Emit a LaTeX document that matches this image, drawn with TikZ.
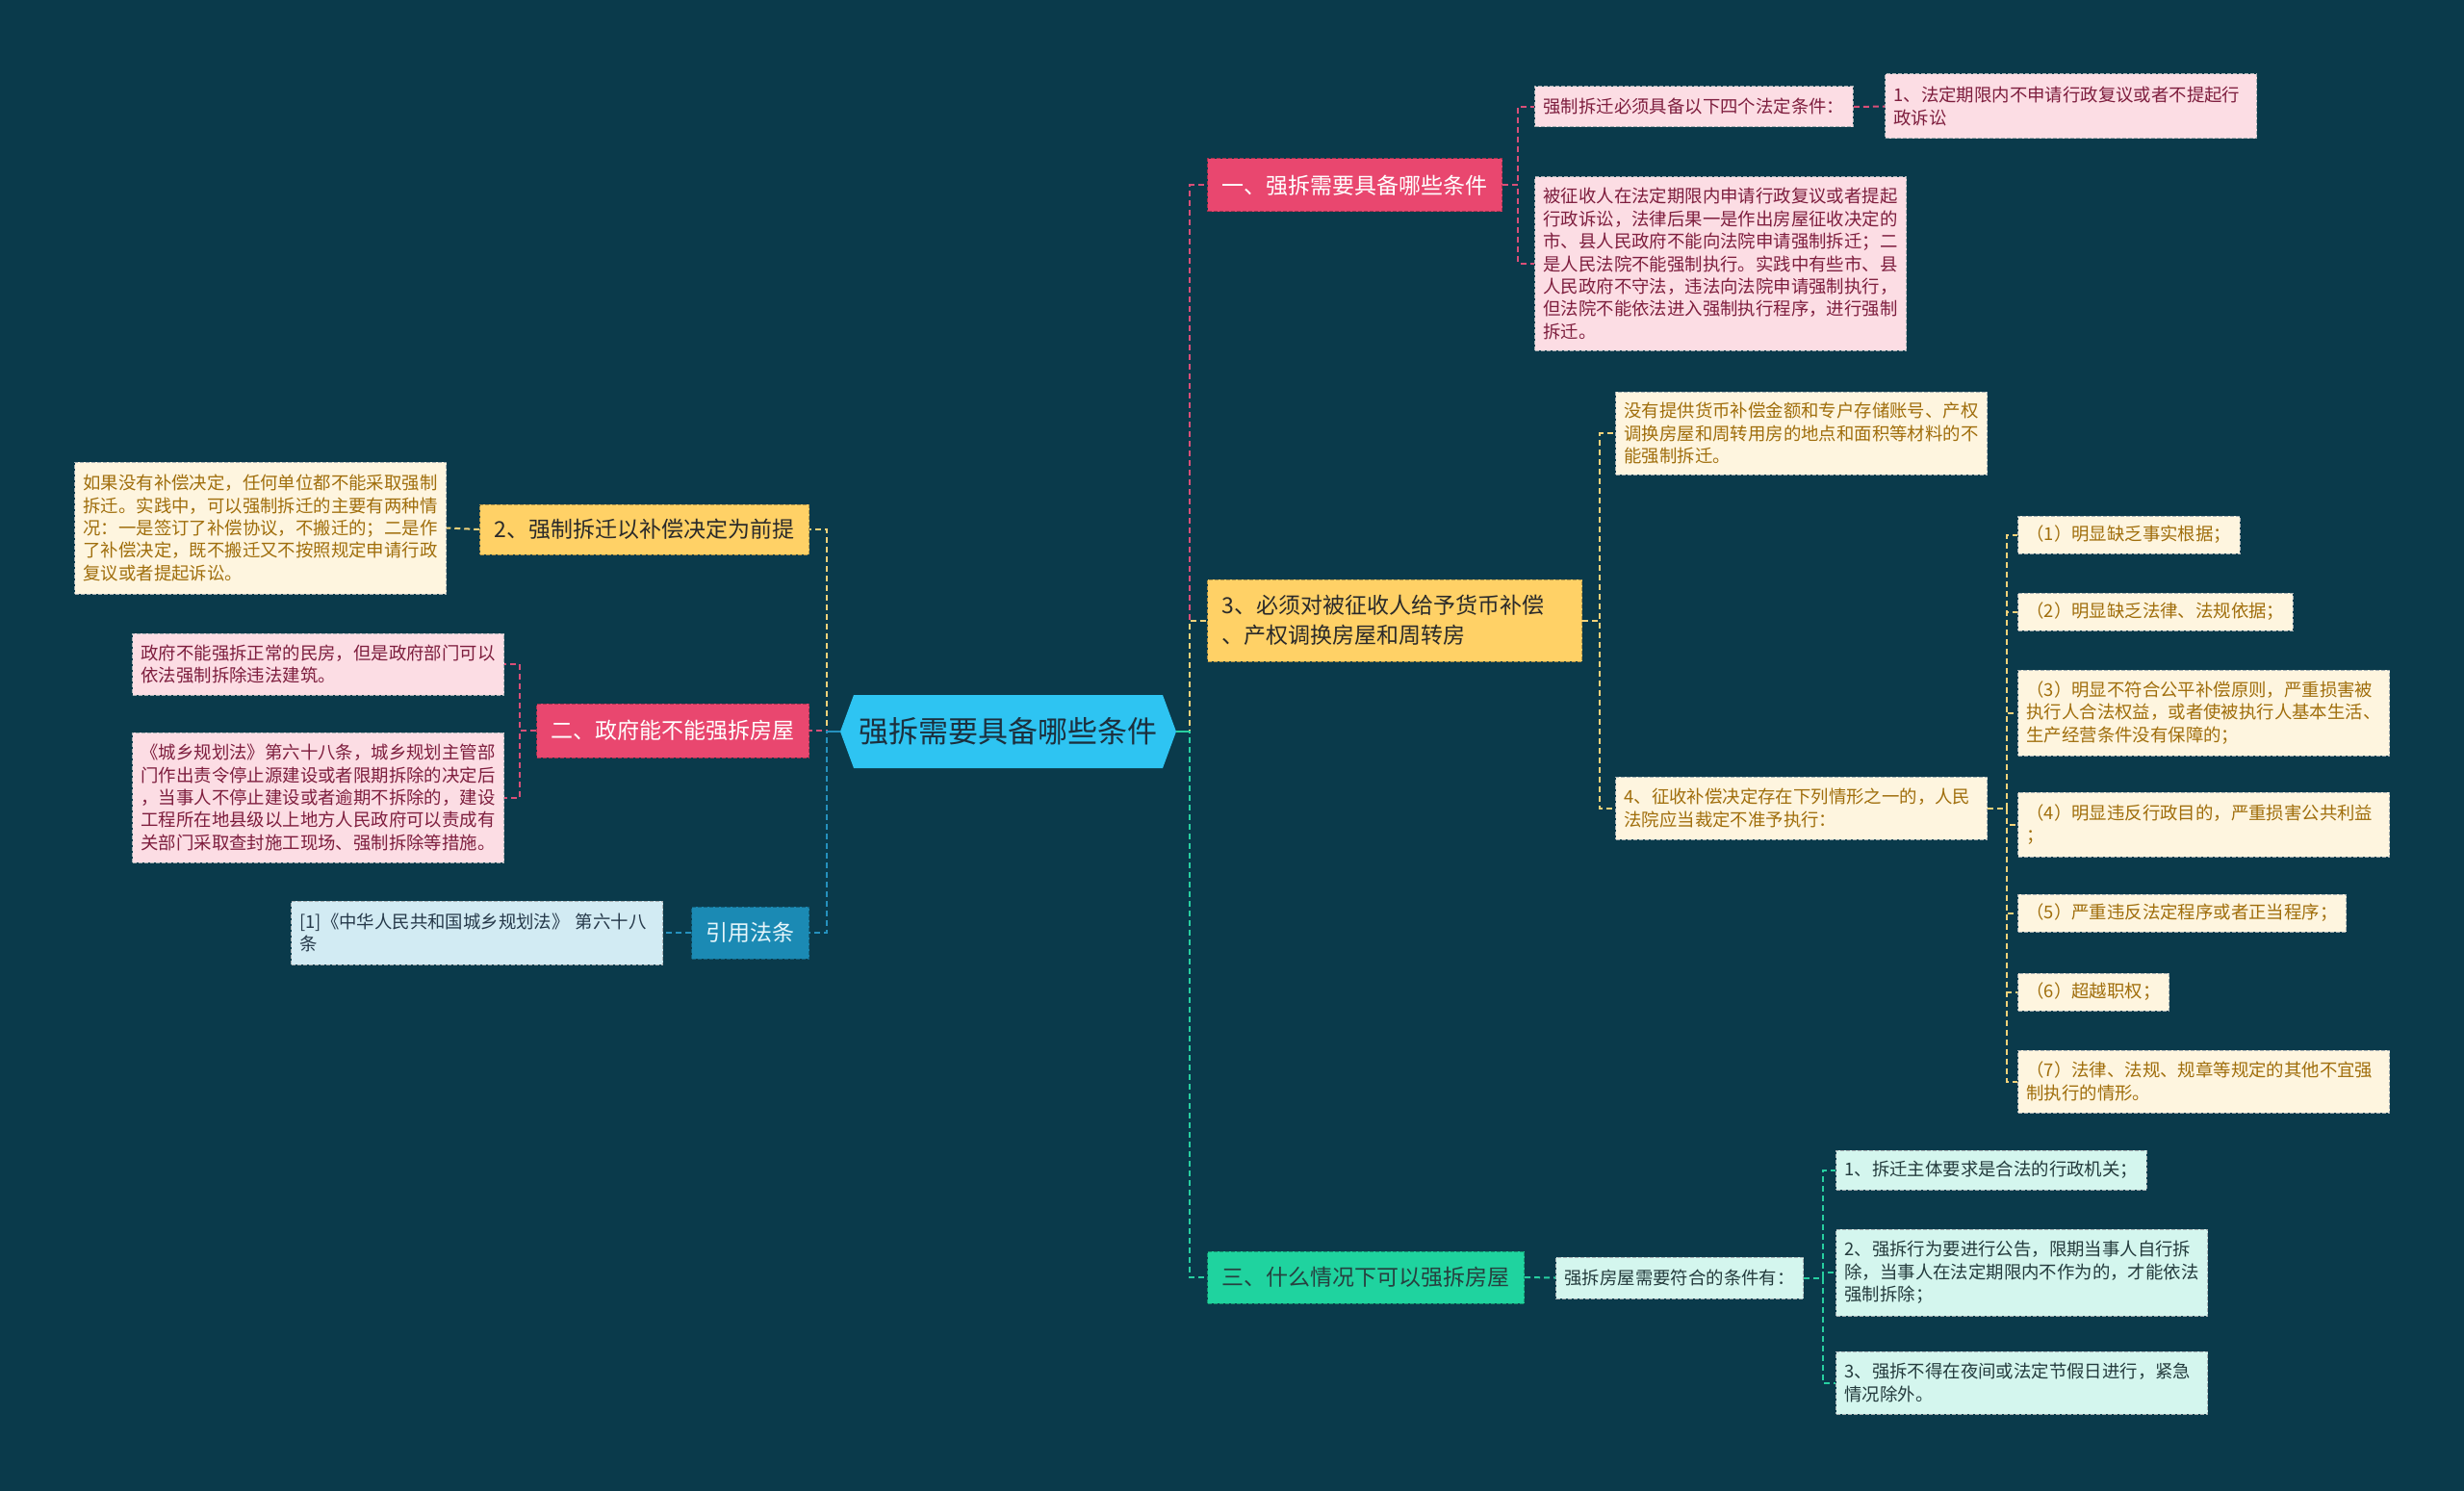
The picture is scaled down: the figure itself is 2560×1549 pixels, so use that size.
\documentclass[tikz,border=0pt]{standalone}
\usepackage{fontspec}
\setmainfont{Noto Sans CJK SC}
\usetikzlibrary{backgrounds,calc}
\definecolor{bg}{HTML}{0A3A4B}
\definecolor{rootfill}{HTML}{2EC4F2}
\definecolor{roottext}{HTML}{1C2F3D}
\definecolor{pinkM}{HTML}{E9476F}
\definecolor{pinkL}{HTML}{FCDDE4}
\definecolor{pinkT}{HTML}{7E1E3E}
\definecolor{pinkC}{HTML}{D94F78}
\definecolor{yellowM}{HTML}{FFD166}
\definecolor{yellowL}{HTML}{FEF5DF}
\definecolor{yellowT}{HTML}{A06E0C}
\definecolor{yellowMT}{HTML}{2A2A2A}
\definecolor{yellowC}{HTML}{F2D27A}
\definecolor{greenM}{HTML}{1FD39F}
\definecolor{greenL}{HTML}{D4F6EE}
\definecolor{greenT}{HTML}{243B3D}
\definecolor{greenMT}{HTML}{27403F}
\definecolor{greenC}{HTML}{27CFA0}
\definecolor{blueM}{HTML}{1B8AB4}
\definecolor{blueL}{HTML}{D2EBF3}
\definecolor{blueT}{HTML}{26394A}
\definecolor{blueMT}{HTML}{E6F6FB}
\definecolor{blueC}{HTML}{2591BE}
\definecolor{leafborder}{HTML}{A8B0B3}
\tikzset{
  mainnode/.style={font=\fontsize{23}{31}\selectfont, inner xsep=15pt, inner ysep=0pt, align=left, line width=1pt, dash pattern=on 4pt off 2pt},
  leaf/.style={font=\fontsize{18.4}{23.4}\selectfont, inner xsep=9pt, inner ysep=0pt, align=left, line width=1pt, dash pattern=on 4pt off 2pt, draw=leafborder},
  wide/.style={text width=368pt},
  pinkmain/.style={mainnode, fill=pinkM, draw=pinkM!70!black, text=white},
  yellowmain/.style={mainnode, fill=yellowM, draw=yellowM!70!black, text=yellowMT},
  greenmain/.style={mainnode, fill=greenM, draw=greenM!70!black, text=greenMT},
  bluemain/.style={mainnode, fill=blueM, draw=blueM!70!black, text=blueMT},
  pinkleaf/.style={leaf, fill=pinkL, text=pinkT},
  yellowleaf/.style={leaf, fill=yellowL, text=yellowT},
  greenleaf/.style={leaf, fill=greenL, text=greenT},
  blueleaf/.style={leaf, fill=blueL, text=blueT},
  conn/.style={line width=2pt, dash pattern=on 6pt off 4pt},
  solidconn/.style={line width=2pt, solid},
}
\begin{document}
\begin{tikzpicture}[x=1pt,y=-1pt]
\useasboundingbox (0,0) rectangle (2560,1549);
\begin{scope}[on background layer]
\fill[bg] (0,0) rectangle (2560,1549);
\fill[rootfill] (873,760) -- (887,722) -- (1208,722) -- (1222,760) -- (1208,798) -- (887,798) -- cycle;
\end{scope}

% root
\node[font=\fontsize{31}{37}\selectfont, text=roottext, minimum width=349pt, minimum height=76pt, inner sep=0pt] (root) at (1047.5,760) {强拆需要具备哪些条件};

% ---- right: branch 一
\node[pinkmain, anchor=west, minimum height=55pt] (P1) at (1254,192.5) {一、强拆需要具备哪些条件};
\node[pinkleaf, anchor=west, minimum height=42pt] (A1) at (1594,111) {强制拆迁必须具备以下四个法定条件：};
\node[pinkleaf, wide, anchor=west, minimum height=67pt] (A1a) at (1958,110.5) {1、法定期限内不申请行政复议或者不提起行\\政诉讼};
\node[pinkleaf, wide, anchor=west, minimum height=180pt] (A2) at (1594,274) {被征收人在法定期限内申请行政复议或者提起\\行政诉讼，法律后果一是作出房屋征收决定的\\市、县人民政府不能向法院申请强制拆迁；二\\是人民法院不能强制执行。实践中有些市、县\\人民政府不守法，违法向法院申请强制执行，\\但法院不能依法进入强制执行程序，进行强制\\拆迁。};

% ---- right: branch 3
\node[yellowmain, anchor=west, text width=359pt, minimum height=85pt] (Y3) at (1254,644.5) {3、必须对被征收人给予货币补偿\\、产权调换房屋和周转房};
\node[yellowleaf, wide, anchor=west, minimum height=86pt] (B1) at (1678,450) {没有提供货币补偿金额和专户存储账号、产权\\调换房屋和周转用房的地点和面积等材料的不\\能强制拆迁。};
\node[yellowleaf, wide, anchor=west, minimum height=65pt] (B2) at (1678,839.5) {4、征收补偿决定存在下列情形之一的，人民\\法院应当裁定不准予执行：};
\node[yellowleaf, anchor=west, minimum height=39pt] (L1) at (2096,555.5) {（1）明显缺乏事实根据；};
\node[yellowleaf, anchor=west, minimum height=39pt] (L2) at (2096,635.5) {（2）明显缺乏法律、法规依据；};
\node[yellowleaf, wide, anchor=west, minimum height=89pt] (L3) at (2096,740.5) {（3）明显不符合公平补偿原则，严重损害被\\执行人合法权益，或者使被执行人基本生活、\\生产经营条件没有保障的；};
\node[yellowleaf, wide, anchor=west, minimum height=67pt] (L4) at (2096,856.5) {（4）明显违反行政目的，严重损害公共利益\\；};
\node[yellowleaf, anchor=west, minimum height=39pt] (L5) at (2096,948.5) {（5）严重违反法定程序或者正当程序；};
\node[yellowleaf, anchor=west, minimum height=39pt] (L6) at (2096,1030.5) {（6）超越职权；};
\node[yellowleaf, wide, anchor=west, minimum height=65pt] (L7) at (2096,1123.5) {（7）法律、法规、规章等规定的其他不宜强\\制执行的情形。};

% ---- right: branch 三
\node[greenmain, anchor=west, minimum height=54pt] (G3) at (1254,1327) {三、什么情况下可以强拆房屋};
\node[greenleaf, anchor=west, minimum height=43pt] (C1) at (1616,1327.5) {强拆房屋需要符合的条件有：};
\node[greenleaf, anchor=west, minimum height=41pt] (C1a) at (1907,1215.5) {1、拆迁主体要求是合法的行政机关；};
\node[greenleaf, wide, anchor=west, minimum height=90pt] (C1b) at (1907,1322) {2、强拆行为要进行公告，限期当事人自行拆\\除，当事人在法定期限内不作为的，才能依法\\强制拆除；};
\node[greenleaf, wide, anchor=west, minimum height=65pt] (C1c) at (1907,1436.5) {3、强拆不得在夜间或法定节假日进行，紧急\\情况除外。};

% ---- left
\node[yellowmain, anchor=east, minimum height=52pt] (Y2) at (841,550) {2、强制拆迁以补偿决定为前提};
\node[yellowleaf, wide, anchor=east, minimum height=137pt] (D1) at (464,548.5) {如果没有补偿决定，任何单位都不能采取强制\\拆迁。实践中，可以强制拆迁的主要有两种情\\况：一是签订了补偿协议，不搬迁的；二是作\\了补偿决定，既不搬迁又不按照规定申请行政\\复议或者提起诉讼。};
\node[pinkmain, anchor=east, minimum height=56pt] (P2) at (841,759) {二、政府能不能强拆房屋};
\node[pinkleaf, wide, anchor=east, minimum height=64pt] (E1) at (524,690) {政府不能强拆正常的民房，但是政府部门可以\\依法强制拆除违法建筑。};
\node[pinkleaf, wide, anchor=east, minimum height=135pt] (E2) at (524,828.5) {《城乡规划法》第六十八条，城乡规划主管部\\门作出责令停止源建设或者限期拆除的决定后\\，当事人不停止建设或者逾期不拆除的，建设\\工程所在地县级以上地方人民政府可以责成有\\关部门采取查封施工现场、强制拆除等措施。};
\node[bluemain, anchor=east, minimum height=54pt] (BL) at (841,969) {引用法条};
\node[blueleaf, wide, anchor=east, minimum height=66pt] (F1) at (689,969) {[1]《中华人民共和国城乡规划法》 第六十八\\条};

% ---- connectors
\coordinate (tR) at (1236,760);
\coordinate (tL) at (859,760);
\draw[conn, pinkC] (root.east) -- (tR) |- (P1.west);
\draw[conn, yellowC] (root.east) -- (tR) |- (Y3.west);
\draw[conn, greenC] (root.east) -- (tR) |- (G3.west);
\draw[solidconn, greenC] (root.east) -- (tR);

\draw[conn, yellowC] (root.west) -- (tL) |- (Y2.east);
\draw[conn, pinkC] (root.west) -- (tL) |- (P2.east);
\draw[conn, blueC] (root.west) -- (tL) |- (BL.east);
\draw[solidconn, blueC] (root.west) -- (tL);

\draw[conn, pinkC] (P1.east) -- ++(16,0) |- (A1.west);
\draw[conn, pinkC] (P1.east) -- ++(16,0) |- (A2.west);
\draw[conn, pinkC] (A1.east) -- (A1a.west);

\draw[conn, yellowC] (Y3.east) -- ++(18,0) |- (B1.west);
\draw[conn, yellowC] (Y3.east) -- ++(18,0) |- (B2.west);
\foreach \n in {L1,L2,L3,L4,L5,L6,L7}
  \draw[conn, yellowC] (B2.east) -- ++(20,0) |- (\n.west);

\draw[conn, greenC] (G3.east) -- (C1.west);
\foreach \n in {C1a,C1b,C1c}
  \draw[conn, greenC] (C1.east) -- ++(20,0) |- (\n.west);

\draw[conn, yellowC] (Y2.west) -- (D1.east);
\draw[conn, pinkC] (P2.west) -- ++(-17,0) |- (E1.east);
\draw[conn, pinkC] (P2.west) -- ++(-17,0) |- (E2.east);
\draw[conn, blueC] (BL.west) -- (F1.east);
\end{tikzpicture}
\end{document}
